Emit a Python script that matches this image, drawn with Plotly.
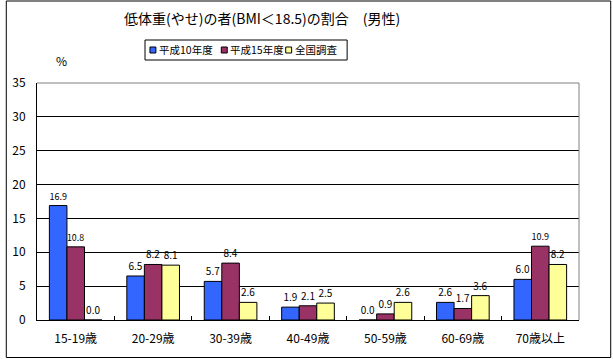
import plotly.graph_objects as go

categories = ["15-19歳", "20-29歳", "30-39歳", "40-49歳", "50-59歳", "60-69歳", "70歳以上"]
h10 = [16.9, 6.5, 5.7, 1.9, 0.0, 2.6, 6.0]
h15 = [10.8, 8.2, 8.4, 2.1, 0.9, 1.7, 10.9]
zenkoku = [0.0, 8.1, 2.6, 2.5, 2.6, 3.6, 8.2]
series_names = ["平成10年度", "平成15年度", "全国調査"]
colors = ["#3366FF", "#993366", "#FFFF99"]

FONT = "MS PGothic, Noto Sans CJK JP, sans-serif"

fig = go.Figure()
for name, vals, col in zip(series_names, [h10, h15, zenkoku], colors):
    fig.add_trace(go.Bar(
        x=categories, y=vals, name=name,
        marker=dict(color=col, line=dict(color="black", width=1)),
        text=[f"{v:.1f}" for v in vals], textposition="outside",
        textfont=dict(size=10, color="black", family=FONT),
        cliponaxis=False,
    ))

W, H = 613, 359
L, R, T, B = 32, 34, 83, 39
pw, ph = W - L - R, H - T - B

def px(x):
    return (x - L) / pw

def py(y):
    return (H - B - y) / ph

annotations = [
    dict(text="低体重(やせ)の者(BMI＜18.5)の割合　(男性)", x=px(259), y=py(18),
         xref="paper", yref="paper", showarrow=False, font=dict(size=14, family=FONT),
         xanchor="center", yanchor="middle"),
    dict(text="%", x=px(57), y=py(60), xref="paper", yref="paper", showarrow=False,
         font=dict(size=12, family=FONT), xanchor="center", yanchor="middle"),
]
shapes = [
    dict(type="rect", xref="paper", yref="paper", x0=px(1), x1=px(611), y0=py(357.5), y1=py(1),
         line=dict(color="black", width=1), layer="below"),
    dict(type="line", xref="paper", yref="paper", x0=0, x1=1, y0=1, y1=1,
         line=dict(color="gray", width=1)),
    dict(type="line", xref="paper", yref="paper", x0=1, x1=1, y0=0, y1=1,
         line=dict(color="gray", width=1)),
    # legend box
    dict(type="rect", xref="paper", yref="paper", x0=px(141), x1=px(345), y0=py(60), y1=py(40),
         line=dict(color="black", width=1), fillcolor="white"),
]
# manual legend entries
leg_sq_x = [146, 218, 283]
for name, col, sx in zip(series_names, colors, leg_sq_x):
    shapes.append(dict(type="rect", xref="paper", yref="paper", x0=px(sx), x1=px(sx + 6),
                       y0=py(53), y1=py(47), line=dict(color="black", width=1), fillcolor=col))
    annotations.append(dict(text=name, x=px(sx + 8), y=py(50), xref="paper", yref="paper",
                            showarrow=False, xanchor="left", yanchor="middle", borderpad=0,
                            font=dict(size=10.5, family=FONT)))

fig.update_layout(
    width=W, height=H,
    margin=dict(l=L, r=R, t=T, b=B),
    paper_bgcolor="white", plot_bgcolor="white",
    font=dict(family=FONT, size=12, color="black"),
    barmode="group", bargap=0.32, bargroupgap=0,
    showlegend=False,
    xaxis=dict(showline=True, linecolor="black", linewidth=1, ticks="inside",
               tickson="boundaries", ticklen=4, tickcolor="black",
               tickfont=dict(size=12), ticklabelstandoff=8),
    yaxis=dict(range=[0, 35], dtick=5, showgrid=True, gridcolor="black", gridwidth=1,
               showline=True, linecolor="black", linewidth=1, ticks="",
               tickfont=dict(size=12), zeroline=False, ticklabelstandoff=8),
    annotations=annotations,
    shapes=shapes,
)

fig.write_html("out.html", config={"displayModeBar": False},
               post_script="document.body.style.margin='0';document.body.style.overflow='hidden';")
